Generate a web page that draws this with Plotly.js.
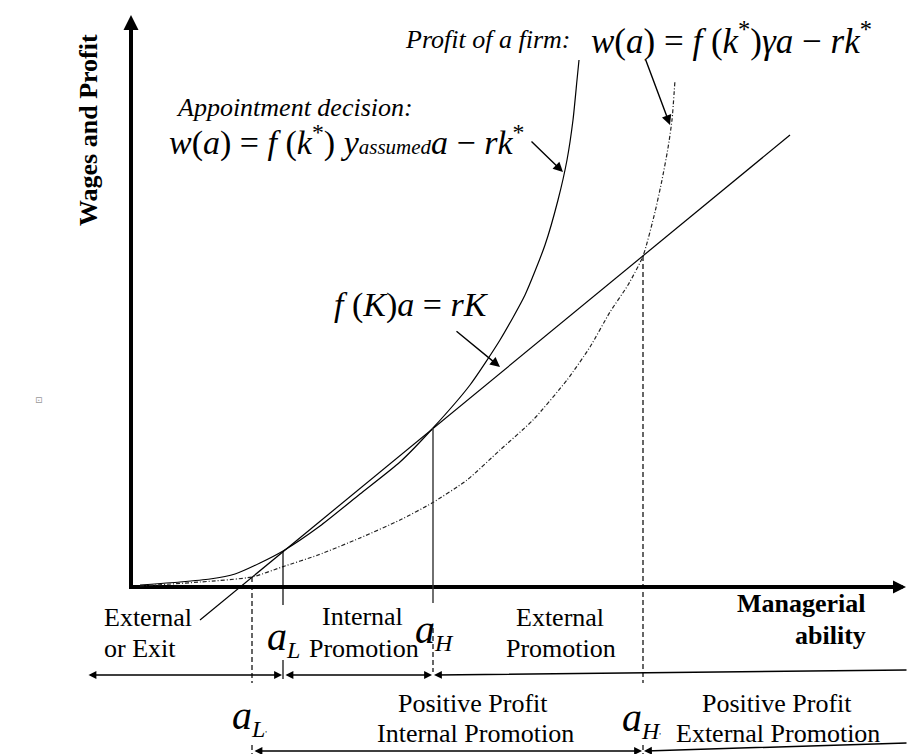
<!DOCTYPE html>
<html>
<head>
<meta charset="utf-8">
<script src="https://cdn.plot.ly/plotly-3.0.1.min.js"></script>
<style>
html,body{margin:0;padding:0;background:#fff;}
#chart{width:908px;height:754px;}
</style>
</head>
<body>
<div id="chart"></div>
<script>
// ---- data (ability on x, wages/profit on y; origin at the axes corner) ----
// straight line f(K)a = rK
const lineAbility = [69, 659];
const lineWage    = [-33, 452];
// appointment decision curve (solid)
const apptAbility = [9, 49, 79, 104, 129, 152, 189, 229, 269, 302, 339, 369, 394, 414, 427, 436, 442, 446, 448];
const apptWage    = [2, 5, 8, 13, 24, 36, 61, 93, 125, 159, 202, 247, 292, 342, 387, 427, 467, 507, 527];
// profit of a firm curve (dash-dot)
const profitAbility = [9, 69, 121, 151, 187, 229, 269, 301, 336, 369, 402, 436, 459, 479, 497, 512, 524, 531, 537, 541, 544];
const profitWage    = [1, 5, 10, 20, 32, 49, 67, 84, 107, 137, 167, 207, 240, 275, 302, 331, 375, 407, 439, 467, 507];
// critical ability levels: aL', aL, aH, aH'
const critNames   = ["aLp", "aL", "aH", "aHp"];
const critAbility = [121, 152, 302, 512];
const critWage    = [10, 36, 159, 331];
// axis extents
const axisMaxAbility = 775;
const axisMaxWage = 572;

const FONT = "Liberation Serif";
const c = {};
critNames.forEach((n, i) => c[n] = {x: critAbility[i], y: critWage[i]});

const traces = [];
function seg(xs, ys, w, dash, col, shape) {
  traces.push({x: xs, y: ys, type: 'scatter', mode: 'lines', hoverinfo: 'skip', cliponaxis: false,
    line: {color: col || '#000', width: w, dash: dash || 'solid', shape: shape || 'linear', smoothing: 0.6}});
}
// axes lines
seg([0, 0], [-2, axisMaxWage - 8], 4);
seg([-2, axisMaxAbility - 8], [0, 0], 4);
seg(lineAbility, lineWage, 1.2);
seg(apptAbility, apptWage, 1.2, 'solid', '#000', 'spline');
seg(profitAbility, profitWage, 1.2, '4px,2px,1px,2px', '#222', 'spline');
// vertical markers
seg([c.aLp.x, c.aLp.x], [c.aLp.y, -96], 1.2, '5px,3px');
seg([c.aLp.x, c.aLp.x], [-158, -167], 1.2, '5px,3px');
seg([c.aL.x, c.aL.x], [c.aL.y, -18], 1.2);
seg([c.aL.x, c.aL.x], [-73, -92], 1.2);
seg([c.aH.x, c.aH.x], [c.aH.y, -16], 1.4, 'solid', '#333');
seg([c.aH.x, c.aH.x], [-41, -85], 1.2, '5px,3px');
seg([c.aHp.x, c.aHp.x], [c.aHp.y, -96], 1.2, '5px,3px');
seg([c.aHp.x, c.aHp.x], [-158, -167], 1.2, '5px,3px');

const ann = [];
function arrow(x, y, ax, ay, w, size, both) {
  ann.push({x: x, y: y, ax: ax, ay: ay, xref: 'x', yref: 'y', axref: 'x', ayref: 'y',
    text: '', font: {size: 1}, showarrow: true, arrowhead: 2, arrowsize: size, arrowwidth: w,
    arrowcolor: '#000', standoff: 0, startstandoff: 0,
    arrowside: both ? 'end+start' : 'end', startarrowhead: 2, startarrowsize: size});
}
// axis heads
arrow(0, axisMaxWage, 0, axisMaxWage - 30, 4, 0.75);
arrow(axisMaxAbility, 0, axisMaxAbility - 30, 0, 4, 0.65);
// region arrows
arrow(c.aL.x - 1, -88, -44, -88, 1.5, 1.05, true);
arrow(c.aH.x - 1, -88, c.aL.x + 1, -88, 1.5, 1.05, true);
arrow(c.aH.x + 1, -88, 777, -83, 1.5, 1.05);
arrow(c.aHp.x - 1, -164, c.aLp.x + 1, -164, 1.5, 1.05, true);
arrow(c.aHp.x + 1, -164, 777, -156, 1.5, 1.05);
// pointers
arrow(432, 415, 399, 447, 1.4, 1.4);
arrow(539, 462, 514, 529, 1.4, 1.4);
arrow(369, 220, 324, 257, 1.4, 1.4);

function txt(t, x, y, size, xa, opts) {
  ann.push(Object.assign({x: x, y: y, xref: 'x', yref: 'y', text: t, showarrow: false,
    xanchor: xa || 'center', yanchor: 'middle', font: {family: FONT, size: size, color: '#000'}}, opts || {}));
}
const SUB = '<span style="font-size:24px">';
txt('<b>Wages and Profit</b>', -43, 457, 26, 'center', {textangle: -90});
txt('<i>Profit of a firm:</i>', 272, 548, 26, 'left');
txt('<i>w</i>(<i>a</i>) = <i>f</i> (<i>k</i><sup>*</sup>)<i>γa</i> − <i>rk</i><sup>*</sup>', 458, 549, 35, 'left');
txt('<i>Appointment decision:</i>', 43, 480, 26, 'left');
txt('<i>w</i>(<i>a</i>) = <i>f</i> (<i>k</i><sup>*</sup>) <i>y</i><i><span style="font-size:21px">assumed</span></i><i>a</i> − <i>rk</i><sup>*</sup>', 36, 447, 34, 'left');
txt('<i>f</i> (<i>K</i>)<i>a</i> = <i>rK</i>', 201, 282, 34, 'left');
txt('External', -29, -30, 26, 'left');
txt('or Exit', -29, -61, 26, 'left');
txt('Internal', 231, -29, 26);
txt('Promotion', 233, -61, 26);
txt('External', 429, -30, 26);
txt('Promotion', 430, -61, 26);
txt('<b>Managerial</b>', 737, -16, 26, 'right');
txt('<b>ability</b>', 737, -48, 26, 'right');
txt('Positive Profit', 342, -116, 26);
txt('Internal Promotion', 344, -146, 26);
txt('Positive Profit', 646, -116, 26);
txt('External Promotion', 647, -146, 26);
txt('<i>a</i><sub>' + SUB + '<i>L</i></span></sub>', 134, -51, 40, 'left');
txt('<i>a</i><sub>' + SUB + '<i>H</i></span></sub>', 282, -44, 40, 'left');
txt('<i>a</i><sub>' + SUB + '<i>L</i></span><span style="font-size:9px">\'</span></sub>', 99, -130, 40, 'left');
txt('<i>a</i><sub>' + SUB + '<i>H</i></span><span style="font-size:9px">\'</span></sub>', 489, -132, 40, 'left');
txt('⊡', -92, 187, 9, 'center', {font: {family: 'DejaVu Sans', size: 9, color: '#999'}});

const layout = {
  width: 908, height: 754,
  margin: {l: 0, r: 0, t: 0, b: 0, pad: 0},
  paper_bgcolor: '#fff', plot_bgcolor: '#fff',
  showlegend: false,
  xaxis: {range: [-131, 777], visible: false, fixedrange: true},
  yaxis: {range: [-167, 587], visible: false, fixedrange: true},
  annotations: ann
};
Plotly.newPlot('chart', traces, layout, {staticPlot: true, displayModeBar: false});
</script>
</body>
</html>
